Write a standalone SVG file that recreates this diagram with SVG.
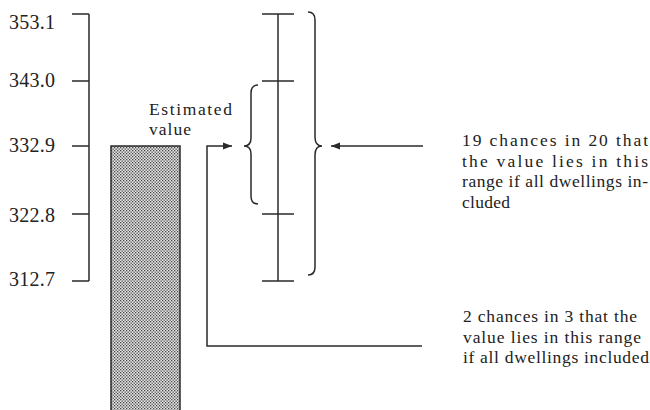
<svg xmlns="http://www.w3.org/2000/svg" width="650" height="410" viewBox="0 0 650 410">
<style>
.ln{stroke:#2a2a2a;stroke-width:1.5;fill:none}
.lbl{font-family:'Liberation Serif','Times New Roman',serif;font-size:20px;fill:#222}
.txt{font-family:'Liberation Serif','Times New Roman',serif;font-size:17.5px;fill:#222}
</style>
<defs>
<pattern id="dots" width="3" height="3" patternUnits="userSpaceOnUse">
<rect width="3" height="3" fill="#e6e6e6"/>
<rect x="0" y="0" width="1.3" height="1.3" fill="#444"/>
<rect x="1.5" y="1.5" width="1.3" height="1.3" fill="#444"/>
</pattern>
<marker id="ah" viewBox="0 0 10 10" refX="10" refY="5" markerWidth="9" markerHeight="9" markerUnits="userSpaceOnUse" orient="auto">
<path d="M0,1 L10,5 L0,9 Z" fill="#2a2a2a"/>
</marker>
</defs>
<rect width="650" height="410" fill="#fff"/>

<g id="axis">
<path class="ln" d="M89,14 V281 M72,14 H89 M72,81 H89 M72,146 H89 M72,214 H89 M72,281 H89"/>
<text class="lbl" x="9" y="29" textLength="46" lengthAdjust="spacing">353.1</text>
<text class="lbl" x="9" y="87" textLength="46" lengthAdjust="spacing">343.0</text>
<text class="lbl" x="9" y="152" textLength="46" lengthAdjust="spacing">332.9</text>
<text class="lbl" x="9" y="222" textLength="46" lengthAdjust="spacing">322.8</text>
<text class="lbl" x="9" y="286" textLength="46" lengthAdjust="spacing">312.7</text>
</g>

<g id="bar">
<rect x="111" y="146" width="69" height="270" fill="url(#dots)" stroke="#2a2a2a" stroke-width="1.5"/>
</g>

<g id="estimate-label">
<text class="txt" x="149" y="115" textLength="83" lengthAdjust="spacing">Estimated</text>
<text class="txt" x="149" y="135" textLength="42" lengthAdjust="spacing">value</text>
</g>

<g id="error-bar">
<path class="ln" d="M278,14 V281 M262,14 H294 M262,81 H294 M262,214 H294 M262,281 H294"/>
</g>

<g id="inner-brace">
<path class="ln" d="M258,85 Q251,85 251,93 L251,138 Q251,146 244,146 Q251,146 251,154 L251,196 Q251,204 258,204"/>
</g>

<g id="outer-brace">
<path class="ln" d="M308,12 Q315,12 315,20 L315,137 Q315,146 322,146 Q315,146 315,155 L315,267 Q315,275 308,275"/>
</g>

<g id="connectors">
<path class="ln" d="M423,146 H331" marker-end="url(#ah)"/>
<path class="ln" d="M422,346 H207 V146 H232" marker-end="url(#ah)"/>
</g>

<g id="label-95">
<text class="txt" x="462" y="146" textLength="186" lengthAdjust="spacing">19 chances in 20 that</text>
<text class="txt" x="462" y="166.5" textLength="186" lengthAdjust="spacing">the value lies in this</text>
<text class="txt" x="462" y="187" textLength="186" lengthAdjust="spacing">range if all dwellings in-</text>
<text class="txt" x="462" y="207.5" textLength="48" lengthAdjust="spacing">cluded</text>
</g>

<g id="label-67">
<text class="txt" x="463" y="322" textLength="174" lengthAdjust="spacing">2 chances in 3 that the</text>
<text class="txt" x="463" y="342.5" textLength="178" lengthAdjust="spacing">value lies in this range</text>
<text class="txt" x="463" y="363" textLength="186" lengthAdjust="spacing">if all dwellings included</text>
</g>
</svg>
